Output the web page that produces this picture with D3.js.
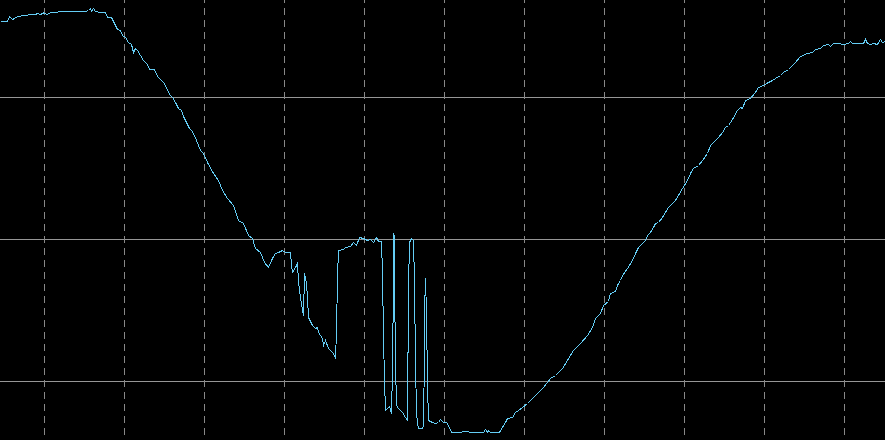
<!DOCTYPE html>
<html>
<head>
<meta charset="utf-8">
<script src="https://cdn.jsdelivr.net/npm/d3@7"></script>
<style>
  html, body { margin: 0; padding: 0; background: #000; overflow: hidden; }
  svg { display: block; }
</style>
</head>
<body>
<div id="chart"></div>
<script>
// Sample positions (sample index) and signal level (arbitrary units)
const sampleX = [0,7,9,12,14,17,25,30,35,37,40,43,47,50,55,60,65,70,75,80,85,88,90,91,93,95,100,105,107,111,113,117,120,122,125,128,131,133,135,137,140,143,147,149,154,157,160,163,165,169,172,175,178,181,183,186,189,192,196,200,203,207,213,218,222,227,233,238,243,248,252,255,260,264,268,272,275,278,282,285,290,291,292,295,297,298,300,302,303,304,306,307,308,312,315,317,318,322,323,325,328,332,335,336,337,338,343,345,350,353,356,359,363,367,370,373,376,378,381,382,383,384,385,387,389,391,392,393,393.5,394,395,396,398,402,405,407,408,409,411,413,414,415,416,417,418,421,423,423.5,424,425,426,427,428,432,435,438,440,443,446,448,451,453,460,463,473,478,483,485,487,488,490,493,499,502,505,507,512,515,518,522,527,533,538,543,550,555,562,567,573,580,587,592,595,600,603,608,610,615,617,620,622,627,632,635,638,642,645,647,650,653,655,658,662,665,668,670,675,678,682,687,690,693,698,702,707,710,715,718,722,725,728,732,737,740,742,745,750,755,758,763,768,772,775,780,783,788,792,795,800,807,812,815,820,823,828,830,833,838,843,848,850,852,857,863,865,867,870,873,877,880,882,885];
const signal = [419,419,424,421,422,424,425,426,426,427,426,427.5,426,428,428,429,429,429,429,429,429,430,432,429,432,429,428,428,423,423,419,411,410,405,403,398,396,388,392,390,385,380,376,371,371,364,361,358,355,346,343,338,332,330,324,318,312,309,300,290,287,278,267,260,250,242,235,220,217,205,202,192,188,178,173,182,187,188,190,188,188,175,168,173,177,158,143,130,125,167,157,143,123,115,112,113,108,102,95,100,92,88,83,108,163,190,191,193,194,198,195,203,202,200,201,198,203,199,199,167,103,60,30,32,34,27,70,162,207,163,77,35,32,28,23,20,153,198,202,200,158,77,28,17,12,12,13,50,127,162,127,57,20,18,17,18,21,18,18,15,8,8,8,9,8,8,8,11,8,10,8,8,8,13,18,22,23,28,30,33,37,43,48,53,62,65,72,80,90,97,105,113,122,127,135,139,147,149,155,160,165,172,180,187,193,197,200,205,208,213,217,218,223,228,233,235,240,245,252,260,267,272,275,280,287,295,300,303,308,313,315,321,330,333,332,340,342,348,353,355,358,360,362,365,368,371,375,378,384,387,388,391,392,395,396,394,397,397,396,397,399,397,397,397,401,397,396,397,396,401,398,399];
const xTicks = d3.range(43, 885, 80);      // dashed vertical grid positions (sample index)
const yTicks = [60, 202, 344];              // solid horizontal grid levels

const W = 885, H = 440;
const svg = d3.select("#chart").append("svg")
  .attr("width", W).attr("height", H)
  .style("background", "#000");

const x = d3.scaleLinear().domain([0, 885]).range([0, W]);
const y = d3.scaleLinear().domain([0, 440]).range([H, 0]);

// horizontal grid via axis
const gy = svg.append("g")
  .attr("transform", "translate(0,0.5)")
  .call(d3.axisLeft(y).tickValues(yTicks).tickSize(-W).tickFormat(""));
gy.select(".domain").remove();
gy.selectAll(".tick line").attr("stroke", "#969696").attr("stroke-width", 1)
  .attr("shape-rendering", "crispEdges");

// vertical dashed grid via axis
const gx = svg.append("g")
  .attr("transform", `translate(0.5,${H})`)
  .call(d3.axisBottom(x).tickValues(xTicks).tickSize(-H).tickFormat(""));
gx.select(".domain").remove();
gx.selectAll(".tick line").attr("stroke", "#888").attr("stroke-width", 1)
  .attr("stroke-dasharray", "7,5").attr("stroke-dashoffset", 7)
  .attr("shape-rendering", "crispEdges");

const data = sampleX.map((d, i) => [d, signal[i]]);
const line = d3.line().x(d => x(d[0])).y(d => y(d[1]));

svg.append("path")
  .datum(data)
  .attr("d", line)
  .attr("transform", "translate(0.5,0.5)")
  .attr("fill", "none")
  .attr("stroke", "#64cdf5")
  .attr("stroke-width", 1)
  .attr("stroke-linejoin", "miter")
  .attr("shape-rendering", "crispEdges");
</script>
</body>
</html>
